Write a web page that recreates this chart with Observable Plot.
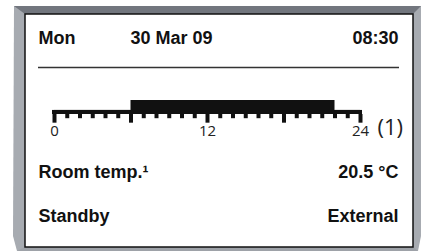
<!DOCTYPE html>
<html>
<head>
<meta charset="utf-8">
<script src="https://cdn.jsdelivr.net/npm/d3@7"></script>
<script src="https://cdn.jsdelivr.net/npm/@observablehq/plot@0.6"></script>
<style>
  html, body { margin: 0; padding: 0; background: #fff; }
</style>
</head>
<body>
<div id="chart"></div>
<script>
// ---- data ----
const headerTexts = ["Mon", "30 Mar 09", "08:30"];
const rowLabels = ["Room temp.\u00b9", "Standby"];
const rowValues = ["20.5 \u00b0C", "External"];
const scheduleStart = [0, 6, 22];
const scheduleEnd = [6, 22, 24];
const scheduleLevel = [0.29, 1, 0.29];   // reduced / comfort
const hourTicks = [0,1,2,3,4,5,6,7,8,9,10,11,12,13,14,15,16,17,18,19,20,21,22,23,24];
const majorTicks = [0, 6, 12, 18, 24];
const tickLabels = [0, 12, 24];
const programLabel = "(1)";

const schedule = scheduleStart.map((s, i) => ({start: s, end: scheduleEnd[i], level: scheduleLevel[i]}));

const bold = "'Liberation Sans', Arial, sans-serif";
const light = "'Open Sans', sans-serif";

// layout of the text lines (pixel offsets from the top-left of the frame)
const headerPos = [{dx: 38, anchor: "start"}, {dx: 130, anchor: "start"}, {dx: 398, anchor: "end"}];
const headerBaseline = 43;
const rowBaselines = [177, 221.5];

function label(str, dx, dy, anchor) {
  return Plot.text([str], {frameAnchor: "top-left", text: d => d, dx, dy, textAnchor: anchor,
    lineAnchor: "bottom", fontSize: 18, fontWeight: "bold", fill: "#111", fontFamily: bold});
}

// decorative bezel drawn as a render-function mark
function bezel() {
  const g = d3.create("svg:g");
  g.append("path").attr("d", "M14,6 L421,6 L421,236 L418,251 L17,251 L13,236 Z").attr("fill", "#a7abb1");
  g.append("path").attr("d", "M14,6 L421,6 L413,14 L25,14 Z").attr("fill", "#72767e");
  g.append("path").attr("d", "M25,247 L413,247 L418,251 L17,251 Z").attr("fill", "#9ea2a8");
  g.append("rect").attr("x", 25).attr("y", 14).attr("width", 388).attr("height", 233)
    .attr("fill", "#fff").attr("stroke", "#111").attr("stroke-width", 1.5);
  g.append("line").attr("x1", 38).attr("x2", 399).attr("y1", 67.5).attr("y2", 67.5)
    .attr("stroke", "#333").attr("stroke-width", 1.3);
  return g.node();
}

const plot = Plot.plot({
  width: 425,
  height: 251,
  margin: 0,
  style: {background: "transparent", fontFamily: bold},
  x: {domain: [0, 24], range: [54, 360], axis: null},
  y: {domain: [0, 1], range: [114, 100], axis: null},
  marks: [
    bezel,
    // header
    ...headerTexts.map((t, i) => label(t, headerPos[i].dx, headerBaseline, headerPos[i].anchor)),
    // schedule: baseline bar across the day and program segments
    Plot.rect([{start: 0, end: 24}], {x1: "start", x2: "end", y1: 0, y2: 0.29, insetLeft: -2, insetRight: -2, fill: "#111"}),
    Plot.rect(schedule, {x1: "start", x2: "end", y1: 0, y2: "level", fill: "#111"}),
    // hour ticks
    Plot.ruleX(hourTicks, {x: d => d, y1: 0, y2: d => majorTicks.includes(d) ? -0.62 : -0.3, stroke: "#111", strokeWidth: 4}),
    // tick labels
    Plot.text(tickLabels, {x: d => d, y: 0, dy: 21, text: d => String(d), lineAnchor: "bottom",
      fontFamily: light, fontSize: 15, fill: "#222"}),
    Plot.text([programLabel], {x: () => 24, y: 0, dx: 17, dy: 20.5, text: d => d, textAnchor: "start", lineAnchor: "bottom",
      fontFamily: light, fontSize: 22, fill: "#222"}),
    // rows
    ...rowLabels.map((t, i) => label(t, 38, rowBaselines[i], "start")),
    ...rowValues.map((t, i) => label(t, 398, rowBaselines[i], "end"))
  ]
});
document.getElementById("chart").appendChild(plot);
</script>
</body>
</html>
